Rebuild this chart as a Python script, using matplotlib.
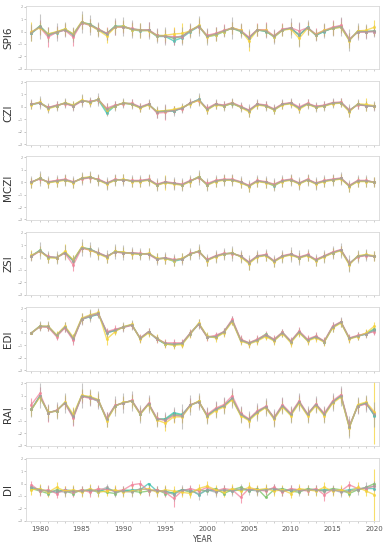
import numpy as np
import matplotlib
matplotlib.use("Agg")
import matplotlib.pyplot as plt
from matplotlib.ticker import MultipleLocator

# Years on the x axis
years = list(range(1979, 2021))

# Index names, top to bottom
index_names = ["SPI6", "CZI", "MCZI", "ZSI", "EDI", "RAI", "DI"]

# SPI6
spi6_grey = [-0.1, 0.4, -0.25, -0.05, 0.15, -0.25, 0.75, 0.55, 0.15, -0.2, 0.4, 0.4, 0.2, 0.1, 0.1, -0.35, -0.35, -0.5, -0.35, 0.05, 0.45,
             -0.4, -0.2, 0.05, 0.27, 0.05, -0.53, 0.13, 0.05, -0.4, 0.13, 0.27, -0.27, 0.32, -0.27, 0.05, 0.27, 0.4, -0.67, 0.0, 0.0, 0.05]
spi6_pink = [-0.05, 0.35, -0.45, -0.05, 0.1, -0.45, 0.7, 0.5, 0.2, -0.15, 0.35, 0.35, 0.25, 0.1, 0.15, -0.3, -0.4, -0.4, -0.45, 0.1, 0.4,
             -0.3, -0.15, 0.1, 0.3, 0.1, -0.45, 0.15, 0.15, -0.35, 0.2, 0.3, 0.05, 0.3, -0.2, 0.1, 0.35, 0.5, -0.6, -0.05, -0.05, 0.0]
spi6_yellow = [0.0, 0.3, -0.2, 0.0, 0.2, -0.2, 0.8, 0.5, 0.1, -0.35, 0.35, 0.45, 0.15, 0.1, 0.05, -0.35, -0.3, -0.2, -0.15, 0.05, 0.5,
               -0.45, -0.25, 0.0, 0.3, 0.1, -0.75, 0.1, 0.1, -0.45, 0.1, 0.2, -0.55, 0.25, -0.25, 0.1, 0.25, 0.35, -0.75, 0.05, 0.1, 0.35]
spi6_green = [-0.1, 0.45, -0.2, -0.05, 0.2, -0.2, 0.75, 0.6, 0.2, -0.15, 0.45, 0.35, 0.2, 0.15, 0.1, -0.3, -0.35, -0.55, -0.4, 0.1, 0.45,
              -0.35, -0.2, 0.05, 0.25, 0.0, -0.5, 0.15, 0.0, -0.35, 0.15, 0.25, -0.25, 0.3, -0.3, 0.05, 0.25, 0.35, -0.7, 0.05, 0.0, 0.05]
spi6_teal = [-0.15, 0.4, -0.3, -0.1, 0.15, -0.3, 0.7, 0.55, 0.15, -0.2, 0.4, 0.45, 0.15, 0.05, 0.1, -0.4, -0.4, -0.75, -0.5, 0.0, 0.4,
             -0.4, -0.3, 0.0, 0.3, 0.05, -0.55, 0.1, 0.05, -0.45, 0.1, 0.3, -0.3, 0.35, -0.3, 0.0, 0.3, 0.45, -0.65, -0.05, 0.0, 0.0]
spi6_grey_err = [0.7, 1.0, 0.6, 0.7, 0.6, 0.6, 0.9, 0.8, 0.6, 0.5, 0.7, 0.8, 0.7, 0.6, 0.7, 0.6, 0.7, 0.6, 0.7, 0.6, 0.8,
                 0.7, 0.6, 0.5, 0.9, 0.6, 0.7, 0.5, 0.6, 0.6, 0.5, 0.8, 1.0, 0.6, 0.5, 0.6, 0.6, 0.8, 0.9, 0.7, 0.6, 0.5]
spi6_yellow_err = [0.8, 0.5, 0.5, 0.4, 0.5, 0.5, 0.6, 0.5, 0.5, 0.6, 0.5, 0.5, 0.5, 0.6, 0.4, 0.4, 0.5, 0.6, 0.8, 0.5, 0.6,
                   0.5, 0.5, 0.4, 0.5, 0.5, 0.8, 0.5, 0.5, 0.4, 0.5, 0.5, 0.6, 0.5, 0.4, 0.5, 0.5, 0.4, 0.6, 0.5, 0.4, 0.6]
spi6_pink_err = [0.5, 0.6, 0.8, 0.5, 0.5, 0.7, 0.5, 0.5, 0.5, 0.5, 0.6, 0.5, 0.5, 0.5, 0.6, 0.5, 0.5, 0.7, 0.5, 0.5, 0.5,
                 0.5, 0.5, 0.5, 0.5, 0.5, 0.5, 0.5, 0.6, 0.5, 0.5, 0.5, 0.6, 0.5, 0.5, 0.5, 0.6, 0.6, 0.5, 0.5, 0.5, 0.4]

# CZI
czi_grey = [0.2, 0.35, -0.1, 0.1, 0.3, 0.1, 0.5, 0.4, 0.6, -0.2, 0.1, 0.3, 0.25, -0.05, 0.2, -0.4, -0.35, -0.3, -0.1, 0.3, 0.6,
            -0.2, 0.2, 0.1, 0.3, 0.0, -0.3, 0.2, 0.1, -0.2, 0.2, 0.3, -0.1, 0.25, 0.0, 0.1, 0.3, 0.35, -0.3, 0.2, 0.1, 0.05]
czi_pink = [0.25, 0.3, -0.05, 0.15, 0.25, 0.05, 0.45, 0.45, 0.55, -0.1, 0.15, 0.25, 0.3, 0.0, 0.25, -0.5, -0.45, -0.25, -0.15, 0.35, 0.5,
            -0.1, 0.25, 0.15, 0.35, 0.05, -0.25, 0.25, 0.15, -0.15, 0.25, 0.35, 0.0, 0.3, 0.05, 0.15, 0.35, 0.4, -0.25, 0.15, 0.1, 0.05]
czi_yellow = [0.15, 0.4, -0.15, 0.05, 0.35, 0.15, 0.55, 0.35, 0.6, -0.25, 0.05, 0.35, 0.2, -0.1, 0.15, -0.35, -0.3, -0.2, -0.05, 0.25, 0.55,
              -0.25, 0.15, 0.05, 0.3, -0.05, -0.4, 0.15, 0.05, -0.25, 0.15, 0.25, -0.2, 0.2, -0.05, 0.05, 0.25, 0.3, -0.4, 0.25, 0.2, 0.1]
czi_green = [0.2, 0.35, -0.05, 0.1, 0.3, 0.1, 0.5, 0.4, 0.6, -0.3, 0.1, 0.3, 0.2, -0.05, 0.2, -0.4, -0.3, -0.3, -0.1, 0.3, 0.55,
             -0.2, 0.2, 0.1, 0.25, 0.0, -0.3, 0.2, 0.1, -0.2, 0.2, 0.3, -0.1, 0.25, 0.0, 0.1, 0.3, 0.35, -0.3, 0.2, 0.1, 0.05]
czi_teal = [0.2, 0.3, -0.1, 0.1, 0.3, 0.1, 0.5, 0.4, 0.55, -0.5, 0.1, 0.3, 0.25, -0.05, 0.2, -0.4, -0.35, -0.35, -0.1, 0.3, 0.6,
            -0.2, 0.2, 0.1, 0.3, 0.0, -0.3, 0.2, 0.1, -0.25, 0.2, 0.3, -0.1, 0.25, 0.0, 0.1, 0.3, 0.35, -0.3, 0.2, 0.1, 0.05]
czi_grey_err = [0.4, 0.5, 0.4, 0.4, 0.4, 0.4, 0.5, 0.4, 0.5, 0.5, 0.4, 0.4, 0.4, 0.4, 0.4, 0.5, 0.6, 0.4, 0.4, 0.4, 0.5,
                0.4, 0.4, 0.4, 0.4, 0.4, 0.5, 0.4, 0.4, 0.4, 0.4, 0.4, 0.4, 0.4, 0.4, 0.4, 0.4, 0.4, 0.5, 0.4, 0.4, 0.4]
czi_yellow_err = [0.3, 0.3, 0.3, 0.3, 0.3, 0.3, 0.4, 0.3, 0.3, 0.4, 0.3, 0.3, 0.3, 0.3, 0.3, 0.3, 0.3, 0.3, 0.3, 0.3, 0.4,
                  0.3, 0.3, 0.3, 0.3, 0.3, 0.4, 0.3, 0.3, 0.3, 0.3, 0.3, 0.3, 0.3, 0.3, 0.3, 0.3, 0.3, 0.4, 0.3, 0.5, 0.3]
czi_pink_err = [0.3, 0.3, 0.3, 0.3, 0.3, 0.3, 0.3, 0.3, 0.3, 0.4, 0.3, 0.3, 0.3, 0.3, 0.3, 0.4, 0.6, 0.3, 0.3, 0.3, 0.3,
                0.3, 0.3, 0.3, 0.3, 0.3, 0.3, 0.3, 0.3, 0.3, 0.3, 0.3, 0.3, 0.3, 0.3, 0.3, 0.3, 0.3, 0.3, 0.3, 0.3, 0.3]

# MCZI
mczi_grey = [0.0, 0.3, 0.0, 0.1, 0.2, 0.0, 0.3, 0.4, 0.2, -0.1, 0.2, 0.2, 0.1, 0.1, 0.2, -0.2, 0.0, -0.1, -0.2, 0.1, 0.4,
             -0.2, 0.1, 0.2, 0.2, 0.0, -0.3, 0.1, 0.0, -0.2, 0.1, 0.2, -0.1, 0.2, -0.1, 0.1, 0.2, 0.3, -0.3, 0.1, 0.1, 0.0]
mczi_pink = [0.05, 0.25, 0.05, 0.15, 0.25, 0.05, 0.25, 0.35, 0.25, -0.05, 0.25, 0.15, 0.15, 0.15, 0.25, -0.15, 0.05, -0.05, -0.15, 0.15, 0.35,
             -0.1, 0.15, 0.25, 0.25, 0.05, -0.25, 0.15, 0.05, -0.15, 0.15, 0.25, -0.05, 0.25, -0.05, 0.15, 0.25, 0.35, -0.25, 0.15, 0.15, 0.0]
mczi_yellow = [-0.05, 0.35, -0.05, 0.05, 0.15, -0.05, 0.35, 0.45, 0.15, -0.15, 0.15, 0.25, 0.05, 0.05, 0.15, -0.25, -0.05, -0.15, -0.25, 0.05, 0.45,
               -0.25, 0.05, 0.15, 0.15, -0.05, -0.35, 0.05, -0.05, -0.25, 0.05, 0.15, -0.15, 0.15, -0.15, 0.05, 0.15, 0.25, -0.35, 0.05, 0.05, 0.0]
mczi_green = [0.0, 0.3, 0.0, 0.1, 0.2, 0.0, 0.3, 0.4, 0.2, -0.1, 0.2, 0.2, 0.1, 0.1, 0.2, -0.2, 0.0, -0.1, -0.2, 0.1, 0.45,
              -0.2, 0.1, 0.2, 0.2, 0.0, -0.3, 0.1, 0.0, -0.2, 0.1, 0.2, -0.1, 0.2, -0.1, 0.1, 0.2, 0.3, -0.3, 0.1, 0.1, 0.0]
mczi_teal = [0.0, 0.3, 0.0, 0.1, 0.2, 0.0, 0.3, 0.4, 0.2, -0.1, 0.2, 0.2, 0.1, 0.1, 0.2, -0.2, 0.0, -0.1, -0.2, 0.1, 0.4,
             -0.2, 0.1, 0.2, 0.2, 0.0, -0.3, 0.1, 0.0, -0.3, 0.1, 0.2, -0.1, 0.2, -0.1, 0.1, 0.2, 0.3, -0.3, 0.1, 0.1, 0.0]
mczi_grey_err = [0.5, 0.6, 0.5, 0.5, 0.5, 0.5, 0.5, 0.5, 0.5, 0.5, 0.5, 0.5, 0.5, 0.5, 0.5, 0.5, 0.5, 0.5, 0.5, 0.5, 0.6,
                 0.5, 0.5, 0.5, 0.5, 0.5, 0.5, 0.5, 0.5, 0.5, 0.5, 0.5, 0.5, 0.5, 0.5, 0.5, 0.5, 0.5, 0.5, 0.5, 0.5, 0.4]
mczi_yellow_err = [0.4, 0.4, 0.4, 0.4, 0.4, 0.4, 0.4, 0.4, 0.4, 0.4, 0.4, 0.4, 0.4, 0.4, 0.4, 0.4, 0.6, 0.4, 0.4, 0.4, 0.4,
                   0.4, 0.4, 0.4, 0.4, 0.4, 0.4, 0.4, 0.4, 0.4, 0.4, 0.4, 0.4, 0.4, 0.4, 0.4, 0.4, 0.4, 0.4, 0.4, 0.4, 0.4]
mczi_pink_err = [0.3, 0.3, 0.3, 0.3, 0.3, 0.3, 0.3, 0.3, 0.3, 0.3, 0.3, 0.3, 0.3, 0.3, 0.3, 0.3, 0.3, 0.3, 0.3, 0.3, 0.3,
                 0.3, 0.3, 0.3, 0.3, 0.3, 0.3, 0.3, 0.3, 0.3, 0.3, 0.3, 0.3, 0.3, 0.3, 0.3, 0.3, 0.3, 0.3, 0.3, 0.3, 0.3]

# ZSI
zsi_grey = [0.13, 0.55, 0.05, 0.0, 0.4, -0.26, 0.8, 0.66, 0.34, 0.08, 0.48, 0.4, 0.35, 0.3, 0.3, -0.1, -0.05, -0.2, -0.1, 0.3, 0.5,
            -0.2, 0.1, 0.3, 0.35, 0.1, -0.4, 0.1, 0.2, -0.3, 0.1, 0.25, 0.0, 0.2, -0.2, 0.1, 0.4, 0.6, -0.5, 0.1, 0.2, 0.1]
zsi_pink = [0.1, 0.5, 0.1, 0.0, 0.35, -0.6, 0.75, 0.6, 0.4, 0.1, 0.45, 0.35, 0.4, 0.35, 0.25, -0.15, 0.0, -0.15, -0.15, 0.35, 0.45,
            -0.15, 0.15, 0.35, 0.3, 0.15, -0.35, 0.15, 0.25, -0.25, 0.15, 0.3, 0.05, 0.25, -0.15, 0.15, 0.45, 0.65, -0.45, 0.05, 0.15, 0.1]
zsi_yellow = [0.2, 0.5, 0.0, -0.05, 0.5, -0.2, 0.85, 0.6, 0.3, 0.0, 0.5, 0.45, 0.3, 0.25, 0.35, -0.05, -0.1, -0.25, -0.05, 0.25, 0.55,
              -0.25, 0.05, 0.25, 0.4, 0.05, -0.5, 0.05, 0.15, -0.35, 0.05, 0.2, -0.05, 0.15, -0.25, 0.05, 0.35, 0.55, -0.6, 0.15, 0.25, 0.15]
zsi_green = [0.1, 0.6, 0.0, 0.0, 0.4, -0.2, 0.8, 0.7, 0.35, 0.05, 0.5, 0.4, 0.35, 0.3, 0.3, -0.1, -0.05, -0.2, -0.1, 0.3, 0.5,
             -0.2, 0.1, 0.3, 0.35, 0.1, -0.4, 0.1, 0.2, -0.3, 0.1, 0.25, 0.0, 0.2, -0.2, 0.1, 0.4, 0.6, -0.5, 0.1, 0.2, 0.1]
zsi_teal = [0.15, 0.55, 0.05, 0.0, 0.4, -0.3, 0.8, 0.65, 0.35, 0.1, 0.45, 0.4, 0.35, 0.3, 0.3, -0.1, -0.05, -0.3, -0.15, 0.3, 0.5,
            -0.2, 0.1, 0.3, 0.35, 0.1, -0.4, 0.1, 0.2, -0.3, 0.1, 0.25, 0.0, 0.2, -0.2, 0.1, 0.4, 0.6, -0.5, 0.1, 0.2, 0.1]
zsi_grey_err = [0.4, 0.7, 0.5, 0.5, 0.6, 0.5, 0.7, 0.6, 0.5, 0.5, 0.6, 0.6, 0.5, 0.5, 0.5, 0.5, 0.5, 0.5, 0.5, 0.5, 0.6,
                0.5, 0.5, 0.5, 0.6, 0.5, 0.6, 0.5, 0.5, 0.5, 0.5, 0.6, 0.6, 0.5, 0.5, 0.5, 0.5, 0.6, 0.7, 0.5, 0.5, 0.4]
zsi_yellow_err = [0.4, 0.4, 0.4, 0.4, 0.6, 0.4, 0.4, 0.4, 0.4, 0.4, 0.4, 0.4, 0.4, 0.4, 0.4, 0.4, 0.4, 0.4, 0.4, 0.4, 0.4,
                  0.4, 0.4, 0.4, 0.4, 0.4, 0.5, 0.4, 0.4, 0.4, 0.4, 0.4, 0.4, 0.4, 0.4, 0.4, 0.4, 0.4, 0.5, 0.4, 0.4, 0.4]
zsi_pink_err = [0.3, 0.3, 0.3, 0.3, 0.3, 0.5, 0.3, 0.3, 0.3, 0.3, 0.3, 0.3, 0.3, 0.3, 0.3, 0.3, 0.3, 0.3, 0.3, 0.3, 0.3,
                0.3, 0.3, 0.3, 0.3, 0.3, 0.3, 0.3, 0.3, 0.3, 0.3, 0.3, 0.3, 0.3, 0.3, 0.3, 0.3, 0.3, 0.3, 0.3, 0.3, 0.3]

# EDI
edi_grey = [0.0, 0.53, 0.53, -0.2, 0.48, -0.45, 1.14, 1.4, 1.6, 0.0, 0.2, 0.48, 0.66, -0.45, 0.08, -0.45, -0.85, -0.9, -0.85, -0.05, 0.74,
            -0.3, -0.3, 0.08, 1.0, -0.58, -0.85, -0.58, -0.2, -0.58, 0.0, -0.7, 0.08, -0.58, -0.3, -0.7, 0.48, 0.87, -0.45, -0.26, -0.1, 0.2]
edi_pink = [0.0, 0.5, 0.45, -0.3, 0.4, -0.6, 1.1, 1.35, 1.55, 0.1, 0.3, 0.45, 0.6, -0.4, 0.1, -0.5, -0.8, -0.8, -0.8, 0.0, 0.7,
            -0.35, -0.2, 0.1, 1.1, -0.5, -0.8, -0.5, -0.15, -0.5, 0.05, -0.65, 0.15, -0.5, -0.25, -0.65, 0.55, 0.9, -0.4, -0.2, -0.05, 0.1]
edi_yellow = [0.0, 0.55, 0.55, -0.15, 0.55, -0.35, 1.2, 1.45, 1.65, -0.5, 0.1, 0.5, 0.7, -0.5, 0.0, -0.4, -0.9, -1.0, -0.95, -0.1, 0.8,
              -0.25, -0.4, 0.0, 0.9, -0.65, -0.9, -0.65, -0.3, -0.65, -0.05, -0.8, 0.0, -0.65, -0.4, -0.75, 0.4, 0.8, -0.5, -0.3, 0.0, 0.55]
edi_green = [0.0, 0.5, 0.5, -0.2, 0.45, -0.45, 1.1, 1.35, 1.5, 0.05, 0.2, 0.5, 0.65, -0.45, 0.1, -0.5, -0.9, -0.95, -0.85, 0.0, 0.75,
             -0.3, -0.3, 0.1, 1.0, -0.55, -0.8, -0.55, -0.1, -0.55, 0.05, -0.7, 0.1, -0.6, -0.3, -0.7, 0.45, 0.85, -0.45, -0.25, -0.05, 0.35]
edi_teal = [0.0, 0.55, 0.5, -0.2, 0.45, -0.5, 1.1, 1.3, 1.5, 0.0, 0.2, 0.45, 0.65, -0.45, 0.05, -0.5, -0.9, -0.9, -0.9, -0.05, 0.7,
            -0.3, -0.35, 0.05, 1.0, -0.6, -0.85, -0.6, -0.2, -0.6, 0.0, -0.7, 0.05, -0.6, -0.3, -0.7, 0.5, 0.85, -0.45, -0.25, -0.1, 0.25]
edi_grey_err = [0.1, 0.4, 0.4, 0.3, 0.4, 0.4, 0.5, 0.5, 0.4, 0.3, 0.3, 0.4, 0.4, 0.3, 0.3, 0.3, 0.3, 0.3, 0.3, 0.3, 0.4,
                0.3, 0.3, 0.3, 0.4, 0.3, 0.3, 0.3, 0.3, 0.3, 0.3, 0.3, 0.3, 0.3, 0.3, 0.3, 0.4, 0.4, 0.3, 0.3, 0.3, 0.3]
edi_yellow_err = [0.1, 0.3, 0.3, 0.3, 0.3, 0.3, 0.4, 0.4, 0.3, 0.5, 0.3, 0.3, 0.3, 0.3, 0.3, 0.3, 0.3, 0.3, 0.3, 0.3, 0.3,
                  0.3, 0.3, 0.3, 0.3, 0.3, 0.3, 0.3, 0.3, 0.3, 0.3, 0.3, 0.3, 0.3, 0.3, 0.3, 0.3, 0.3, 0.3, 0.3, 0.3, 0.3]
edi_pink_err = [0.1, 0.3, 0.3, 0.3, 0.3, 0.4, 0.4, 0.3, 0.3, 0.3, 0.3, 0.3, 0.3, 0.3, 0.3, 0.3, 0.3, 0.3, 0.3, 0.3, 0.3,
                0.3, 0.3, 0.3, 0.3, 0.3, 0.3, 0.3, 0.3, 0.3, 0.3, 0.3, 0.3, 0.3, 0.3, 0.3, 0.3, 0.3, 0.3, 0.3, 0.3, 0.3]

# RAI
rai_grey = [-0.08, 1.0, -0.35, -0.2, 0.45, -0.66, 1.0, 0.88, 0.66, -0.88, 0.2, 0.45, 0.6, -0.45, 0.35, -0.88, -0.93, -0.53, -0.66, 0.27, 0.53,
            -0.6, -0.1, 0.2, 0.8, -0.5, -0.9, -0.3, 0.1, -0.8, 0.2, -0.5, 0.5, -0.5, 0.3, -0.5, 0.5, 1.0, -1.5, 0.2, 0.4, -0.5]
rai_pink = [0.3, 1.2, -0.4, -0.15, 0.4, -0.8, 0.95, 0.8, 0.6, -0.8, 0.25, 0.4, 0.65, -0.4, 0.4, -0.8, -1.0, -0.6, -0.6, 0.3, 0.5,
            -0.5, 0.0, 0.3, 1.0, -0.4, -0.85, -0.2, 0.15, -0.75, 0.3, -0.4, 0.6, -0.45, 0.35, -0.4, 0.6, 1.1, -1.4, 0.15, 0.35, -0.4]
rai_yellow = [-0.1, 0.9, -0.3, -0.25, 0.5, -0.5, 1.05, 0.95, 0.7, -1.0, 0.15, 0.5, 0.55, -0.5, 0.3, -0.95, -1.2, -0.7, -0.7, 0.2, 0.6,
              -0.7, -0.2, 0.1, 0.7, -0.6, -1.0, -0.4, 0.05, -0.9, 0.1, -0.6, 0.4, -0.6, 0.2, -0.6, 0.4, 0.9, -1.6, 0.3, 0.5, -0.3]
rai_green = [-0.1, 0.95, -0.35, -0.2, 0.45, -0.65, 1.0, 0.9, 0.65, -0.9, 0.2, 0.45, 0.6, -0.45, 0.35, -0.85, -0.9, -0.45, -0.55, 0.25, 0.55,
             -0.6, -0.1, 0.2, 0.75, -0.5, -0.9, -0.3, 0.1, -0.8, 0.2, -0.5, 0.5, -0.5, 0.3, -0.5, 0.5, 1.0, -1.5, 0.2, 0.45, -0.55]
rai_teal = [-0.1, 1.0, -0.35, -0.2, 0.45, -0.7, 1.0, 0.85, 0.55, -0.9, 0.2, 0.45, 0.6, -0.45, 0.35, -0.9, -0.85, -0.35, -0.5, 0.25, 0.5,
            -0.6, -0.1, 0.2, 0.8, -0.5, -0.95, -0.3, 0.1, -0.8, 0.2, -0.5, 0.5, -0.5, 0.3, -0.5, 0.5, 1.0, -1.5, 0.2, 0.4, -0.6]
rai_grey_err = [0.6, 1.0, 0.7, 0.7, 0.8, 0.7, 1.0, 0.7, 0.7, 0.6, 0.8, 0.8, 0.8, 0.7, 0.7, 0.6, 0.6, 0.6, 1.0, 0.8, 0.7,
                0.7, 0.7, 0.7, 0.8, 0.7, 0.7, 0.7, 0.7, 0.7, 0.7, 0.7, 0.7, 0.7, 0.7, 0.7, 0.7, 0.8, 0.9, 0.7, 0.7, 1.0]
rai_yellow_err = [0.5, 0.5, 0.5, 0.5, 0.6, 0.6, 0.5, 0.5, 0.5, 0.5, 0.5, 0.5, 0.5, 0.5, 0.5, 0.5, 0.6, 0.5, 0.5, 0.5, 0.5,
                  0.5, 0.5, 0.5, 0.5, 0.5, 0.5, 0.5, 0.5, 0.5, 0.5, 0.5, 0.5, 0.5, 0.5, 0.5, 0.5, 0.5, 0.6, 0.5, 0.5, 2.6]
rai_pink_err = [0.5, 0.5, 0.7, 0.5, 0.5, 0.6, 0.5, 0.5, 0.5, 0.5, 0.5, 0.5, 0.5, 0.5, 0.5, 0.5, 0.5, 0.5, 0.5, 0.5, 0.5,
                0.5, 0.5, 0.5, 0.5, 0.5, 0.5, 0.5, 0.5, 0.5, 0.5, 0.5, 0.5, 0.5, 0.5, 0.5, 0.5, 0.5, 0.5, 0.5, 0.5, 0.5]

# DI
di_grey = [-0.3, -0.5, -0.6, -0.6, -0.7, -0.6, -0.6, -0.5, -0.6, -0.3, -0.7, -0.6, -0.7, -0.4, -0.5, -0.6, -0.6, -0.9, -0.5, -0.6, -0.8,
           -0.5, -0.7, -0.5, -0.6, -0.4, -0.5, -0.6, -0.5, -0.4, -0.6, -0.5, -0.6, -0.5, -0.5, -0.6, -0.5, -0.7, -0.6, -0.5, -0.3, -0.2]
di_pink = [-0.1, -0.6, -0.5, -0.8, -0.5, -0.7, -0.5, -0.7, -0.4, -0.5, -0.6, -0.5, -0.1, 0.0, -0.6, -0.5, -0.7, -1.2, -0.6, -0.4, -0.6,
           -0.3, -0.6, -0.4, -0.5, -1.1, -0.4, -0.5, -0.6, -0.3, -0.7, -0.4, -0.5, -0.6, -0.4, -0.9, -0.5, -0.6, -0.1, -0.4, -0.4, -0.2]
di_yellow = [-0.5, -0.4, -0.7, -0.3, -0.6, -0.5, -0.7, -0.4, -0.7, -0.6, -0.5, -0.7, -0.6, -0.5, -0.4, -0.7, -0.5, -0.6, -0.7, -0.8, -0.4,
             -0.2, -0.5, -0.7, -0.4, -0.6, -0.3, -0.5, -0.4, -0.6, -0.5, -0.8, -0.4, -0.5, -0.6, -0.3, -0.6, -0.5, -0.7, -0.3, -0.6, -0.9]
di_green = [-0.4, -0.6, -0.8, -0.5, -0.6, -0.8, -0.5, -0.6, -0.5, -0.7, -0.8, -0.5, -0.6, -0.7, -0.6, -0.5, -0.8, -0.7, -0.5, -0.7, -0.5,
            -0.6, -0.4, -0.8, -0.5, -0.3, -0.6, -0.4, -1.1, -0.5, -0.4, -0.6, -0.7, -0.4, -0.5, -0.6, -0.4, -0.5, -0.8, -0.5, -0.3, 0.0]
di_teal = [-0.3, -0.5, -0.6, -0.7, -0.5, -0.6, -0.6, -0.5, -0.7, -0.4, -0.6, -0.6, -0.5, -0.5, 0.0, -0.6, -0.6, -0.8, -0.5, -0.5, -0.9,
           -0.5, -0.6, -0.5, -0.6, -0.5, -0.5, -0.5, -0.5, -0.4, -0.6, -0.5, -0.5, -0.5, -0.5, -0.5, -0.5, -0.6, -0.5, -0.4, -0.4, -0.4]
di_grey_err = [0.3, 0.4, 0.4, 0.3, 0.4, 0.4, 0.4, 0.4, 0.4, 0.3, 0.4, 0.4, 0.4, 0.4, 0.4, 0.4, 0.4, 0.5, 0.4, 0.4, 0.5,
               0.4, 0.4, 0.4, 0.4, 0.4, 0.4, 0.4, 0.4, 0.4, 0.4, 0.4, 0.4, 0.4, 0.4, 0.4, 0.4, 0.4, 0.4, 0.4, 0.4, 0.4]
di_yellow_err = [0.4, 0.4, 0.4, 0.4, 0.4, 0.4, 0.4, 0.4, 0.4, 0.4, 0.4, 0.4, 0.4, 0.4, 0.4, 0.4, 0.4, 0.4, 0.4, 0.4, 0.4,
                 0.4, 0.4, 0.4, 0.4, 0.4, 0.4, 0.4, 0.4, 0.4, 0.4, 0.4, 0.4, 0.4, 0.4, 0.4, 0.4, 0.4, 0.4, 0.4, 0.4, 2.1]
di_pink_err = [0.3, 0.4, 0.4, 0.4, 0.3, 0.4, 0.3, 0.4, 0.3, 0.3, 0.4, 0.3, 0.3, 0.3, 0.4, 0.3, 0.4, 0.7, 0.3, 0.3, 0.3,
               0.3, 0.3, 0.3, 0.3, 0.5, 0.3, 0.3, 0.3, 0.3, 0.3, 0.3, 0.3, 0.3, 0.3, 0.5, 0.3, 0.3, 0.3, 0.3, 0.3, 0.3]

colors = {
    "pink": "#f2849c",
    "yellow": "#f5d33a",
    "green": "#78c465",
    "teal": "#40c3b2",
    "grey": "#a0a0a0",
}

panels = [
    (spi6_pink, spi6_yellow, spi6_green, spi6_teal, spi6_grey, spi6_pink_err, spi6_yellow_err, spi6_grey_err),
    (czi_pink, czi_yellow, czi_green, czi_teal, czi_grey, czi_pink_err, czi_yellow_err, czi_grey_err),
    (mczi_pink, mczi_yellow, mczi_green, mczi_teal, mczi_grey, mczi_pink_err, mczi_yellow_err, mczi_grey_err),
    (zsi_pink, zsi_yellow, zsi_green, zsi_teal, zsi_grey, zsi_pink_err, zsi_yellow_err, zsi_grey_err),
    (edi_pink, edi_yellow, edi_green, edi_teal, edi_grey, edi_pink_err, edi_yellow_err, edi_grey_err),
    (rai_pink, rai_yellow, rai_green, rai_teal, rai_grey, rai_pink_err, rai_yellow_err, rai_grey_err),
    (di_pink, di_yellow, di_green, di_teal, di_grey, di_pink_err, di_yellow_err, di_grey_err),
]

fig, axes = plt.subplots(7, 1, figsize=(3.88, 5.5), dpi=100, sharex=True)
fig.subplots_adjust(left=0.066, right=0.978, top=0.99, bottom=0.052, hspace=0.18)

for ax, name, data in zip(axes, index_names, panels):
    pink, yellow, green, teal, grey, pink_err, yellow_err, grey_err = data
    kw = dict(lw=1.0, alpha=0.75, marker="o", ms=1.2, capsize=0, elinewidth=0.8)

    ax.errorbar(years, pink, yerr=pink_err, color=colors["pink"], **kw)
    ax.errorbar(years, yellow, yerr=yellow_err, color=colors["yellow"], **kw)
    ax.plot(years, green, color=colors["green"], lw=1.0, alpha=0.75, marker="o", ms=1.2)
    ax.plot(years, teal, color=colors["teal"], lw=1.0, alpha=0.75, marker="o", ms=1.2)
    ax.errorbar(years, grey, yerr=grey_err, color=colors["grey"],
                lw=1.0, alpha=0.6, marker="o", ms=1.2, capsize=0, elinewidth=0.8)

    ax.set_ylim(-3.05, 2.1)
    ax.set_xlim(1978.3, 2020.6)
    ax.set_yticks([-3, -2, -1, 0, 1, 2])
    ax.set_ylabel(name, fontsize=7.5, color="#333333", labelpad=3)
    ax.xaxis.set_major_locator(MultipleLocator(5))
    ax.xaxis.set_minor_locator(MultipleLocator(1))
    ax.tick_params(axis="y", labelsize=2.5, colors="#999999", length=1.2, width=0.4, pad=1)
    ax.tick_params(axis="x", which="both", length=1.2, width=0.4, colors="#aaaaaa", labelsize=5, pad=2)
    for s in ax.spines.values():
        s.set_color("#d8d8d8")
        s.set_linewidth(0.6)

axes[-1].tick_params(axis="x", labelcolor="#555555")
axes[-1].set_xlabel("YEAR", fontsize=5.5, color="#444444", labelpad=2)

fig.savefig("out.png", dpi=100)
